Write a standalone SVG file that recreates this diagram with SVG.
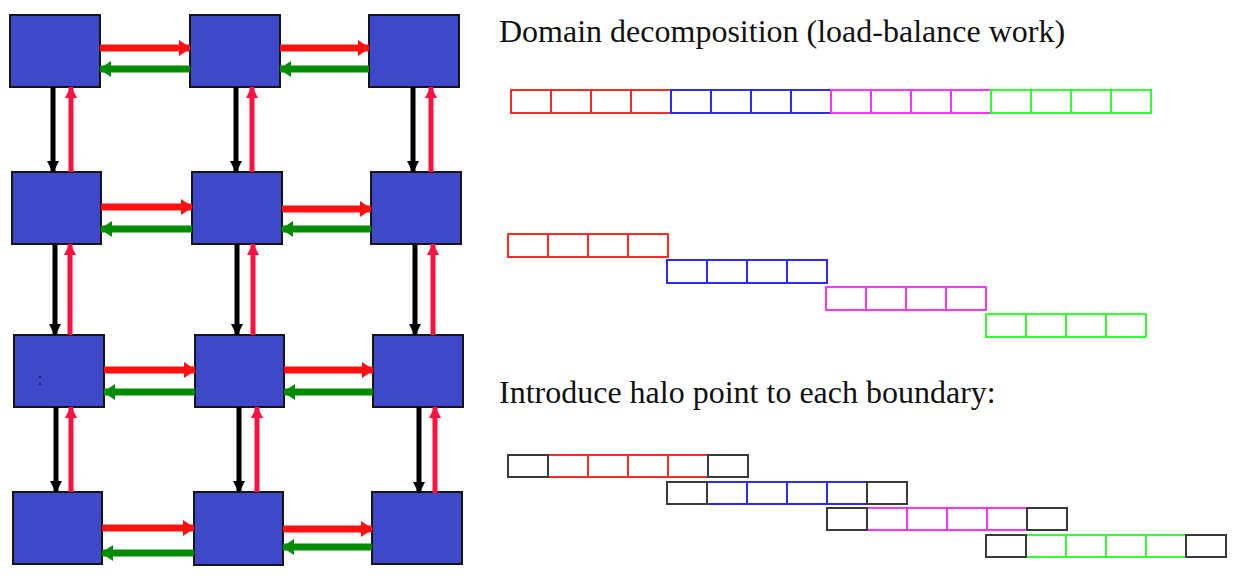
<svg xmlns="http://www.w3.org/2000/svg" width="1240" height="582" viewBox="0 0 1240 582">
  <defs>
    <style>
      .proc { fill: #3f48c8; stroke: #151515; stroke-width: 2; }
      .east { stroke: #ff1010; stroke-width: 7; fill: none; }
      .west { stroke: #008c00; stroke-width: 7; fill: none; }
      .down { stroke: #000; stroke-width: 5; fill: none; }
      .up { stroke: #ff1040; stroke-width: 5; fill: none; }
      .title { font-family: "Liberation Serif", "Times New Roman", serif; font-size: 32px; fill: #111; }
      .cell { fill: #fff; stroke-width: 2; }
      .r { stroke: #ff2a2a; }
      .b { stroke: #2a2aff; }
      .m { stroke: #ff33ff; }
      .g { stroke: #33ff33; }
      .k { stroke: #3a3a3a; }
    </style>
    <marker id="hRed" markerUnits="userSpaceOnUse" markerWidth="12" markerHeight="16" refX="11" refY="8" orient="auto">
      <path d="M0,0 L12,8 L0,16 Z" fill="#ff1010"/>
    </marker>
    <marker id="hGreen" markerUnits="userSpaceOnUse" markerWidth="12" markerHeight="16" refX="11" refY="8" orient="auto">
      <path d="M0,0 L12,8 L0,16 Z" fill="#008c00"/>
    </marker>
    <marker id="hBlack" markerUnits="userSpaceOnUse" markerWidth="12" markerHeight="12" refX="11" refY="6" orient="auto">
      <path d="M0,0 L12,6 L0,12 Z" fill="#000"/>
    </marker>
    <marker id="hCrimson" markerUnits="userSpaceOnUse" markerWidth="12" markerHeight="12" refX="11" refY="6" orient="auto">
      <path d="M0,0 L12,6 L0,12 Z" fill="#ff1040"/>
    </marker>
  </defs>

  <rect width="1240" height="582" fill="#fff"/>

  <!-- 4x3 processor grid -->
  <g id="p11"><rect class="proc" x="10" y="15" width="90" height="72"/></g>
  <g id="p12"><rect class="proc" x="190" y="15" width="90" height="72"/></g>
  <g id="p13"><rect class="proc" x="369" y="15" width="90" height="72"/></g>
  <g id="p21"><rect class="proc" x="12" y="172" width="89" height="72"/></g>
  <g id="p22"><rect class="proc" x="192" y="172" width="90" height="72"/></g>
  <g id="p23"><rect class="proc" x="371" y="172" width="90" height="72"/></g>
  <g id="p31"><rect class="proc" x="14" y="335" width="90" height="72"/>
    <rect x="39" y="376" width="2" height="2" fill="#1a1f70"/>
    <rect x="39" y="383" width="2" height="2" fill="#1a1f70"/></g>
  <g id="p32"><rect class="proc" x="195" y="335" width="89" height="72"/></g>
  <g id="p33"><rect class="proc" x="373" y="335" width="90" height="72"/></g>
  <g id="p41"><rect class="proc" x="13" y="492" width="89" height="72"/></g>
  <g id="p42"><rect class="proc" x="194" y="492" width="89" height="73"/></g>
  <g id="p43"><rect class="proc" x="372" y="492" width="90" height="72"/></g>

  <!-- halo exchange messages -->
  <g id="connectors">
    <!-- eastward sends -->
    <path class="east" d="M100,48 H190" marker-end="url(#hRed)"/>
    <path class="east" d="M280,48 H369" marker-end="url(#hRed)"/>
    <path class="east" d="M101,207 H192" marker-end="url(#hRed)"/>
    <path class="east" d="M282,209 H371" marker-end="url(#hRed)"/>
    <path class="east" d="M104,370 H195" marker-end="url(#hRed)"/>
    <path class="east" d="M284,370 H373" marker-end="url(#hRed)"/>
    <path class="east" d="M102,528 H194" marker-end="url(#hRed)"/>
    <path class="east" d="M283,529 H372" marker-end="url(#hRed)"/>
    <!-- westward sends -->
    <path class="west" d="M190,69 H100" marker-end="url(#hGreen)"/>
    <path class="west" d="M369,69 H280" marker-end="url(#hGreen)"/>
    <path class="west" d="M192,229 H101" marker-end="url(#hGreen)"/>
    <path class="west" d="M371,229 H282" marker-end="url(#hGreen)"/>
    <path class="west" d="M195,392 H104" marker-end="url(#hGreen)"/>
    <path class="west" d="M373,392 H284" marker-end="url(#hGreen)"/>
    <path class="west" d="M194,553 H102" marker-end="url(#hGreen)"/>
    <path class="west" d="M372,547 H283" marker-end="url(#hGreen)"/>
    <!-- southward sends -->
    <path class="down" d="M53,87 V172" marker-end="url(#hBlack)"/>
    <path class="down" d="M55,244 V335" marker-end="url(#hBlack)"/>
    <path class="down" d="M56,407 V492" marker-end="url(#hBlack)"/>
    <path class="down" d="M236,87 V172" marker-end="url(#hBlack)"/>
    <path class="down" d="M237,244 V335" marker-end="url(#hBlack)"/>
    <path class="down" d="M239,407 V492" marker-end="url(#hBlack)"/>
    <path class="down" d="M413,87 V172" marker-end="url(#hBlack)"/>
    <path class="down" d="M415,244 V335" marker-end="url(#hBlack)"/>
    <path class="down" d="M419,407 V493" marker-end="url(#hBlack)"/>
    <!-- northward sends -->
    <path class="up" d="M71,172 V87" marker-end="url(#hCrimson)"/>
    <path class="up" d="M70,335 V244" marker-end="url(#hCrimson)"/>
    <path class="up" d="M71,492 V407" marker-end="url(#hCrimson)"/>
    <path class="up" d="M252,172 V87" marker-end="url(#hCrimson)"/>
    <path class="up" d="M253,335 V244" marker-end="url(#hCrimson)"/>
    <path class="up" d="M257,492 V407" marker-end="url(#hCrimson)"/>
    <path class="up" d="M431,172 V87" marker-end="url(#hCrimson)"/>
    <path class="up" d="M433,335 V244" marker-end="url(#hCrimson)"/>
    <path class="up" d="M435,493 V407" marker-end="url(#hCrimson)"/>
  </g>

  <!-- right-hand side: 1-D decomposition -->
  <g id="title-decomp"><text class="title" x="499" y="42">Domain decomposition (load-balance work)</text></g>

  <g id="full-array">
    <rect class="cell r" x="511" y="90" width="40" height="23"/>
    <rect class="cell r" x="551" y="90" width="40" height="23"/>
    <rect class="cell r" x="591" y="90" width="40" height="23"/>
    <rect class="cell r" x="631" y="90" width="40" height="23"/>
    <rect class="cell b" x="671" y="90" width="40" height="23"/>
    <rect class="cell b" x="711" y="90" width="40" height="23"/>
    <rect class="cell b" x="751" y="90" width="40" height="23"/>
    <rect class="cell b" x="791" y="90" width="40" height="23"/>
    <rect class="cell m" x="831" y="90" width="40" height="23"/>
    <rect class="cell m" x="871" y="90" width="40" height="23"/>
    <rect class="cell m" x="911" y="90" width="40" height="23"/>
    <rect class="cell m" x="951" y="90" width="40" height="23"/>
    <rect class="cell g" x="991" y="90" width="40" height="23"/>
    <rect class="cell g" x="1031" y="90" width="40" height="23"/>
    <rect class="cell g" x="1071" y="90" width="40" height="23"/>
    <rect class="cell g" x="1111" y="90" width="40" height="23"/>
  </g>

  <g id="split-red">
    <rect class="cell r" x="508" y="234" width="40" height="23"/>
    <rect class="cell r" x="548" y="234" width="40" height="23"/>
    <rect class="cell r" x="588" y="234" width="40" height="23"/>
    <rect class="cell r" x="628" y="234" width="40" height="23"/>
  </g>
  <g id="split-blue">
    <rect class="cell b" x="667" y="260" width="40" height="23"/>
    <rect class="cell b" x="707" y="260" width="40" height="23"/>
    <rect class="cell b" x="747" y="260" width="40" height="23"/>
    <rect class="cell b" x="787" y="260" width="40" height="23"/>
  </g>
  <g id="split-magenta">
    <rect class="cell m" x="826" y="287" width="40" height="23"/>
    <rect class="cell m" x="866" y="287" width="40" height="23"/>
    <rect class="cell m" x="906" y="287" width="40" height="23"/>
    <rect class="cell m" x="946" y="287" width="40" height="23"/>
  </g>
  <g id="split-green">
    <rect class="cell g" x="986" y="314" width="40" height="23"/>
    <rect class="cell g" x="1026" y="314" width="40" height="23"/>
    <rect class="cell g" x="1066" y="314" width="40" height="23"/>
    <rect class="cell g" x="1106" y="314" width="40" height="23"/>
  </g>

  <g id="title-halo"><text class="title" x="499" y="403">Introduce halo point to each boundary:</text></g>

  <g id="halo-red">
    <rect class="cell r" x="548" y="455" width="40" height="22"/>
    <rect class="cell r" x="588" y="455" width="40" height="22"/>
    <rect class="cell r" x="628" y="455" width="40" height="22"/>
    <rect class="cell r" x="668" y="455" width="40" height="22"/>
    <rect class="cell k" x="508" y="455" width="40" height="22"/>
    <rect class="cell k" x="708" y="455" width="40" height="22"/>
  </g>
  <g id="halo-blue">
    <rect class="cell b" x="707" y="482" width="40" height="22"/>
    <rect class="cell b" x="747" y="482" width="40" height="22"/>
    <rect class="cell b" x="787" y="482" width="40" height="22"/>
    <rect class="cell b" x="827" y="482" width="40" height="22"/>
    <rect class="cell k" x="667" y="482" width="40" height="22"/>
    <rect class="cell k" x="867" y="482" width="40" height="22"/>
  </g>
  <g id="halo-magenta">
    <rect class="cell m" x="867" y="508" width="40" height="22"/>
    <rect class="cell m" x="907" y="508" width="40" height="22"/>
    <rect class="cell m" x="947" y="508" width="40" height="22"/>
    <rect class="cell m" x="987" y="508" width="40" height="22"/>
    <rect class="cell k" x="827" y="508" width="40" height="22"/>
    <rect class="cell k" x="1027" y="508" width="40" height="22"/>
  </g>
  <g id="halo-green">
    <rect class="cell g" x="1026" y="535" width="40" height="22"/>
    <rect class="cell g" x="1066" y="535" width="40" height="22"/>
    <rect class="cell g" x="1106" y="535" width="40" height="22"/>
    <rect class="cell g" x="1146" y="535" width="40" height="22"/>
    <rect class="cell k" x="986" y="535" width="40" height="22"/>
    <rect class="cell k" x="1186" y="535" width="40" height="22"/>
  </g>
</svg>
